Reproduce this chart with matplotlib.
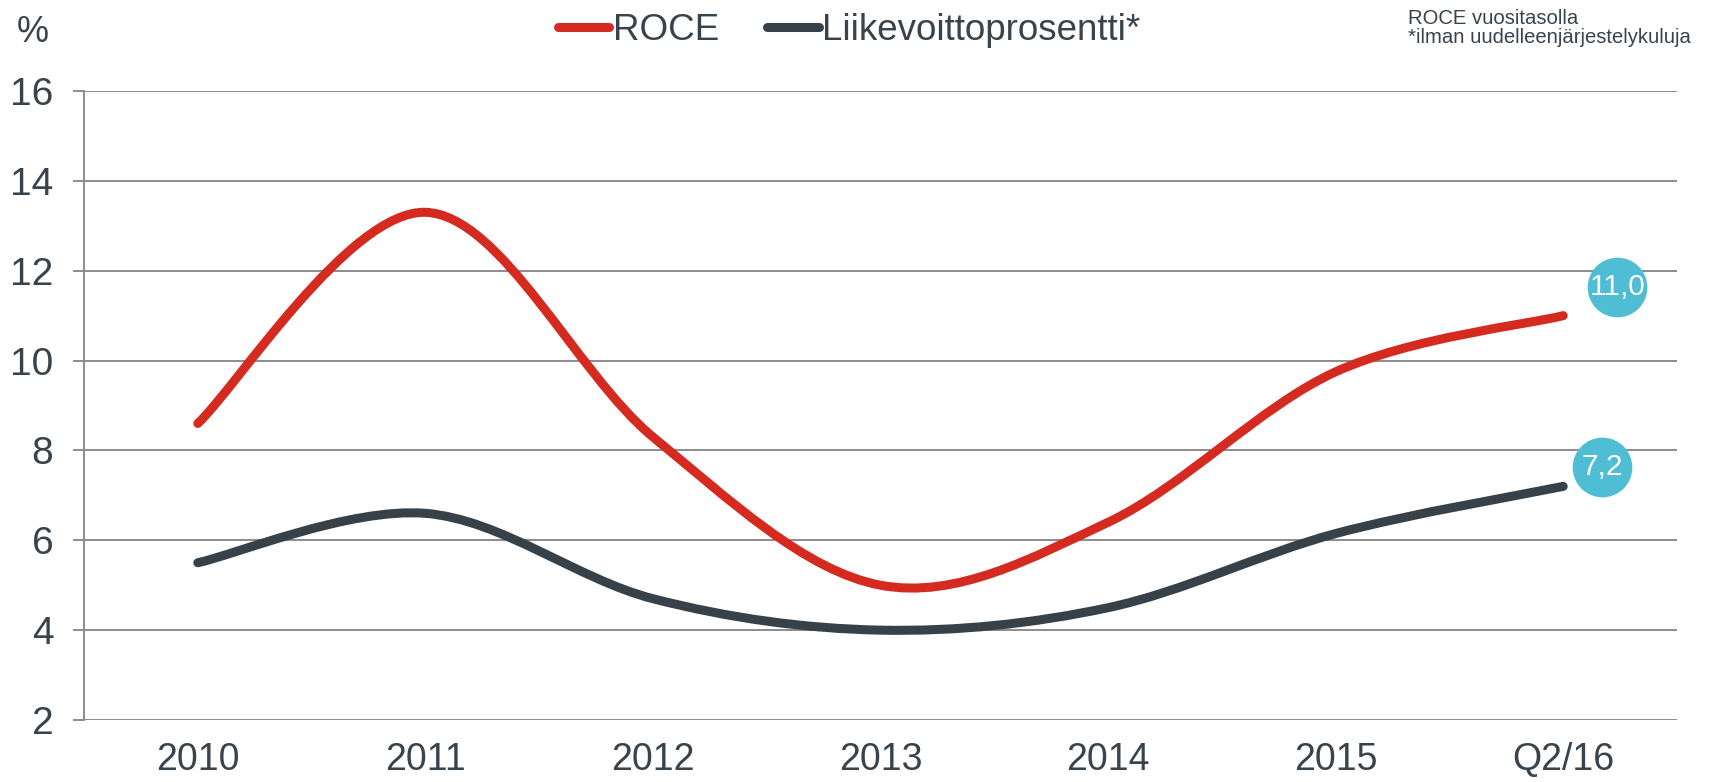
import numpy as np
import matplotlib
matplotlib.use('Agg')
import matplotlib.pyplot as plt
from matplotlib.path import Path
from matplotlib.patches import PathPatch
from matplotlib.lines import Line2D
from matplotlib.transforms import offset_copy

categories = ['2010', '2011', '2012', '2013', '2014', '2015', 'Q2/16']
roce = [8.6, 13.3, 8.3, 5.0, 6.4, 9.75, 11.0]
liikevoitto = [5.5, 6.6, 4.7, 4.0, 4.5, 6.15, 7.2]
end_labels = ['11,0', '7,2']
yticks = [2, 4, 6, 8, 10, 12, 14, 16]

RED = '#D42A1F'
DARK = '#37414A'
CYAN = '#4FBDD4'
GRID = '#8C8C8C'
TEXT = '#38434C'

plt.rcParams['font.family'] = ['Liberation Sans', 'DejaVu Sans']


def smooth_path(x, y):
    # Excel-like smoothing: cubic bezier with control points P1 + (P2 - P0) / 6
    pts = np.column_stack([x, y]).astype(float)
    n = len(pts)
    verts = [pts[0]]
    codes = [Path.MOVETO]
    for i in range(n - 1):
        p0 = pts[max(i - 1, 0)]
        p1 = pts[i]
        p2 = pts[i + 1]
        p3 = pts[min(i + 2, n - 1)]
        c1 = p1 + (p2 - p0) / 6.0
        c2 = p2 - (p3 - p1) / 6.0
        verts += [c1, c2, p2]
        codes += [Path.CURVE4] * 3
    return Path(verts, codes)


fig = plt.figure(figsize=(17.19, 7.82), dpi=100)
ax = fig.add_axes([84 / 1719, 62 / 782, (1677 - 84) / 1719, (720 - 91) / 782])

x = np.arange(len(categories))
for vals, col in [(roce, RED), (liikevoitto, DARK)]:
    patch = PathPatch(smooth_path(x, vals), facecolor='none', edgecolor=col,
                      lw=6.5, capstyle='round', joinstyle='round', zorder=3)
    ax.add_patch(patch)

ax.set_xlim(-0.5, len(categories) - 0.5)
ax.set_ylim(2, 16)
ax.set_yticks(yticks)
ax.set_xticks(x)
ax.set_xticklabels(categories)
ax.grid(axis='y', color=GRID, lw=1.4)
ax.set_axisbelow(True)
for s in ['top', 'right', 'bottom']:
    ax.spines[s].set_visible(False)
ax.spines['left'].set_color(GRID)
ax.spines['left'].set_linewidth(1.4)
ax.tick_params(axis='y', length=8, width=1.4, color=GRID, pad=14,
               labelsize=28, labelcolor=TEXT)
ax.tick_params(axis='x', length=0, pad=16, labelsize=27, labelcolor=TEXT)

# end value bubbles
last = len(categories) - 1
for vals, lbl, (dx, dy) in [(roce, end_labels[0], (54, 29)),
                            (liikevoitto, end_labels[1], (39, 19))]:
    tr = offset_copy(ax.transData, fig=fig, x=dx, y=dy, units='dots')
    ax.plot([last], [vals[last]], marker='o', markersize=43, color=CYAN,
            markeredgewidth=0, transform=tr, zorder=4, clip_on=False)
    ax.text(last, vals[last], lbl, transform=tr, color='white', fontsize=21.5,
            ha='center', va='center', zorder=5)

handles = [Line2D([], [], color=RED, lw=6.5, solid_capstyle='round'),
           Line2D([], [], color=DARK, lw=6.5, solid_capstyle='round')]
fig.legend(handles, ['ROCE', 'Liikevoittoprosentti*'], loc='center',
           bbox_to_anchor=(0.494, 0.961), ncol=2, frameon=False, fontsize=26.5,
           handlelength=1.4, handletextpad=0.1, columnspacing=1.3,
           labelcolor=TEXT)

fig.text(33 / 1719, 1 - 32 / 782, '%', fontsize=26, color=TEXT,
         ha='center', va='center')
fig.text(1408 / 1719, 1 - 24 / 782, 'ROCE vuositasolla', fontsize=14.6,
         color=TEXT, ha='left', va='baseline')
fig.text(1408 / 1719, 1 - 43 / 782, '*ilman uudelleenjärjestelykuluja',
         fontsize=14.6, color=TEXT, ha='left', va='baseline')

fig.savefig('out.png', dpi=100)
